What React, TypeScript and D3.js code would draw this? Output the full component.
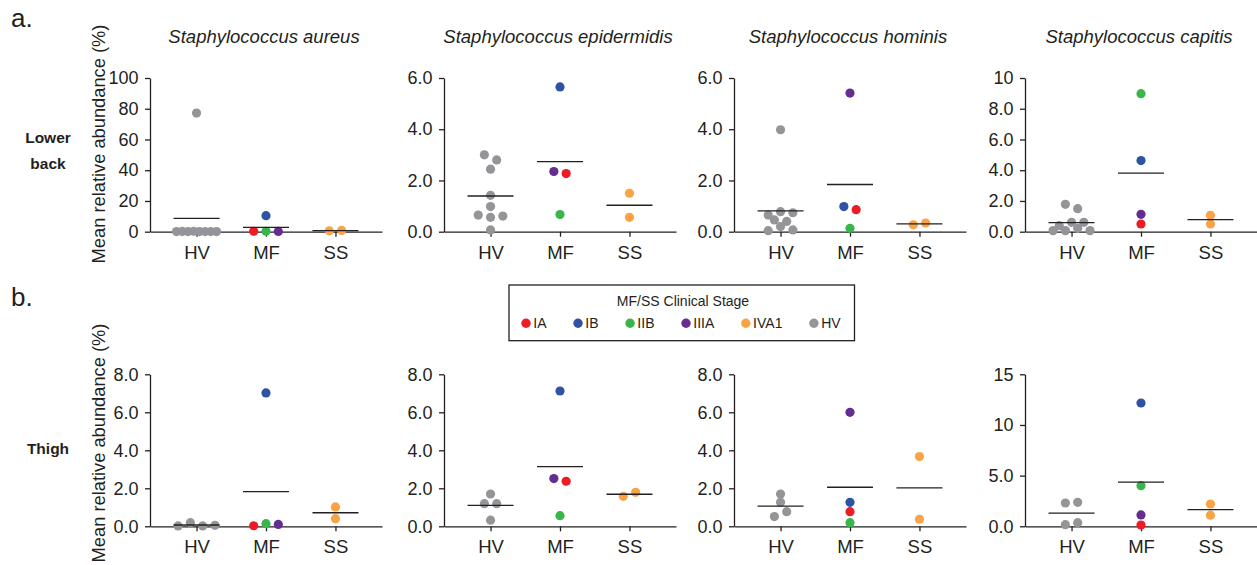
import * as d3 from "d3";
import { useEffect, useRef } from "react";

const groups = ["HV", "MF", "SS"];
const species = [
  "Staphylococcus aureus",
  "Staphylococcus epidermidis",
  "Staphylococcus hominis",
  "Staphylococcus capitis",
];
const siteLabels = [["Lower", "back"], ["Thigh"]];
const stages = ["IA", "IB", "IIB", "IIIA", "IVA1", "HV"];
const stageColors = ["#ED1C24", "#2E52A4", "#39B54A", "#662D91", "#F9A346", "#939598"];

// y axis per panel
const yMaxLowerBack = [100, 6, 6, 10];
const yTicksLowerBack = [
  [0, 20, 40, 60, 80, 100],
  [0, 2, 4, 6],
  [0, 2, 4, 6],
  [0, 2, 4, 6, 8, 10],
];
const yTickLabelsLowerBack = [
  ["0", "20", "40", "60", "80", "100"],
  ["0.0", "2.0", "4.0", "6.0"],
  ["0.0", "2.0", "4.0", "6.0"],
  ["0.0", "2.0", "4.0", "6.0", "8.0", "10"],
];
const yMaxThigh = [8, 8, 8, 15];
const yTicksThigh = [
  [0, 2, 4, 6, 8],
  [0, 2, 4, 6, 8],
  [0, 2, 4, 6, 8],
  [0, 5, 10, 15],
];
const yTickLabelsThigh = [
  ["0.0", "2.0", "4.0", "6.0", "8.0"],
  ["0.0", "2.0", "4.0", "6.0", "8.0"],
  ["0.0", "2.0", "4.0", "6.0", "8.0"],
  ["0.0", "5.0", "10", "15"],
];

// lower back
const hvLowerBack = [
  [77.2, 0.1, 0.2, 0.1, 0.3, 0.1, 0.1, 0.1, 0.1],
  [3.0, 2.8, 2.44, 1.42, 0.98, 0.65, 0.56, 0.61, 0.07],
  [3.98, 0.65, 0.78, 0.74, 0.46, 0.4, 0.04, 0.2, 0.07],
  [1.78, 1.5, 0.39, 0.61, 0.61, 0.07, 0.07, 0.22, 0.07],
];
const mfLowerBack: [string, number][][] = [
  [["IB", 10.4], ["IA", 0.3], ["IIB", 0.3], ["IIIA", 0.2]],
  [["IB", 5.65], ["IIIA", 2.35], ["IA", 2.27], ["IIB", 0.67]],
  [["IIIA", 5.41], ["IB", 0.98], ["IA", 0.86], ["IIB", 0.13]],
  [["IIB", 8.98], ["IB", 4.63], ["IIIA", 1.13], ["IA", 0.5]],
];
const ssLowerBack = [
  [0.6, 0.8],
  [1.5, 0.56],
  [0.27, 0.34],
  [1.07, 0.5],
];

// thigh
const hvThigh = [
  [0.02, 0.19, 0.02, 0.05],
  [1.7, 1.19, 1.19, 0.32],
  [1.7, 1.26, 0.51, 0.77],
  [2.3, 2.37, 0.16, 0.36],
];
const mfThigh: [string, number][][] = [
  [["IB", 7.02], ["IA", 0.03], ["IIB", 0.14], ["IIIA", 0.1]],
  [["IB", 7.12], ["IIIA", 2.51], ["IA", 2.37], ["IIB", 0.56]],
  [["IIIA", 6.0], ["IB", 1.26], ["IA", 0.77], ["IIB", 0.19]],
  [["IB", 12.17], ["IIB", 4.01], ["IIIA", 1.12], ["IA", 0.13]],
];
const ssThigh = [
  [1.02, 0.4],
  [1.58, 1.79],
  [3.67, 0.37],
  [2.2, 1.1],
];

const W = 1257;
const H = 565;
const FONT = "'Liberation Sans', Arial, Helvetica, sans-serif";
const INK = "#231F20";
const panelX = [150, 444, 734, 1025];
const axisLen = 232;
const rows = [
  { bottom: 231.7, top: 78, labelY: 144 },
  { bottom: 526.3, top: 374.3, labelY: 443 },
];
const R = 4.6;

type Pt = { group: string; stage: string; value: number };

// Prism-like scatter: points close in y share a row, rows are centred
function swarm(vals: number[], y: (v: number) => number) {
  const order = d3.range(vals.length).sort((a, b) => vals[b] - vals[a] || a - b);
  const offs = new Array(vals.length).fill(0);
  let row: number[] = [];
  const flush = () => {
    row.sort((a, b) => a - b);
    const n = row.length;
    const s = n > 1 ? Math.min(12.3, 40 / (n - 1)) : 0;
    row.forEach((i, k) => (offs[i] = (k - (n - 1) / 2) * s));
  };
  order.forEach((i) => {
    if (row.length && y(vals[i]) - y(vals[row[0]]) >= 5.5) {
      flush();
      row = [];
    }
    row.push(i);
  });
  flush();
  return offs;
}

export default function App() {
  const ref = useRef<SVGSVGElement>(null);

  useEffect(() => {
    if (!ref.current) return;
    const svg = d3.select(ref.current);
    svg.selectAll("*").remove();

    const color = d3.scaleOrdinal<string, string>().domain(stages).range(stageColors);
    const x = d3.scalePoint<string>().domain(groups).range([0, axisLen]).padding(0.67);

    const sites = [
      { hv: hvLowerBack, mf: mfLowerBack, ss: ssLowerBack, max: yMaxLowerBack, ticks: yTicksLowerBack, labels: yTickLabelsLowerBack },
      { hv: hvThigh, mf: mfThigh, ss: ssThigh, max: yMaxThigh, ticks: yTicksThigh, labels: yTickLabelsThigh },
    ];

    sites.forEach((site, r) => {
      const row = rows[r];
      species.forEach((sp, p) => {
        const y = d3.scaleLinear().domain([0, site.max[p]]).range([row.bottom, row.top]);
        const g = svg.append("g").attr("transform", `translate(${panelX[p]},0)`);

        const yAxis = g
          .append("g")
          .attr("color", INK)
          .call(
            d3
              .axisLeft(y)
              .tickValues(site.ticks[p])
              .tickFormat((_, i) => site.labels[p][i])
              .tickSize(5)
              .tickSizeOuter(0)
              .tickPadding(6.5)
          );
        yAxis.attr("font-size", 18).attr("font-family", FONT);
        yAxis.selectAll("path,line").attr("stroke-width", 1.3);
        yAxis.selectAll("text").attr("fill", INK);

        const xAxis = g
          .append("g")
          .attr("transform", `translate(0,${row.bottom})`)
          .attr("color", INK)
          .call(d3.axisBottom(x).tickSize(5).tickSizeOuter(0));
        xAxis.attr("font-size", 18.5).attr("font-family", FONT);
        xAxis.selectAll("path,line").attr("stroke-width", 1.3);
        xAxis.selectAll("text").attr("y", 27).attr("dy", null).attr("fill", INK);

        const groupsData: Pt[][] = [
          site.hv[p].map((v) => ({ group: "HV", stage: "HV", value: v })),
          site.mf[p].map(([s, v]) => ({ group: "MF", stage: s, value: v })),
          site.ss[p].map((v) => ({ group: "SS", stage: "IVA1", value: v })),
        ];

        groupsData.forEach((pts) => {
          const offs = swarm(pts.map((d) => d.value), y);
          g.append("g")
            .selectAll("circle")
            .data(pts)
            .enter()
            .append("circle")
            .attr("cx", (d, i) => (x(d.group) as number) + offs[i])
            .attr("cy", (d) => y(d.value))
            .attr("r", R)
            .attr("fill", (d) => color(d.stage));

          const m = d3.mean(pts, (d) => d.value) as number;
          const cx = x(pts[0].group) as number;
          g.append("line")
            .attr("x1", cx - 23)
            .attr("x2", cx + 23)
            .attr("y1", y(m))
            .attr("y2", y(m))
            .attr("stroke", INK)
            .attr("stroke-width", 1.4);
        });

        if (r === 0) {
          svg
            .append("text")
            .attr("x", panelX[p] + axisLen / 2 - 2)
            .attr("y", 43)
            .attr("text-anchor", "middle")
            .attr("font-family", FONT)
            .attr("font-style", "italic")
            .attr("font-size", 18.5)
            .attr("fill", INK)
            .text(sp);
        }
      });

      // y axis title
      svg
        .append("text")
        .attr("transform", `translate(105,${row.labelY}) rotate(-90)`)
        .attr("text-anchor", "middle")
        .attr("font-family", FONT)
        .attr("font-size", 18.3)
        .attr("fill", INK)
        .text("Mean relative abundance (%)");

      // site label
      const lab = svg
        .append("text")
        .attr("text-anchor", "middle")
        .attr("font-family", FONT)
        .attr("font-weight", "bold")
        .attr("font-size", 15.5)
        .attr("fill", INK);
      const ly = r === 0 ? 142.5 : 453.5;
      siteLabels[r].forEach((t, i) => {
        lab.append("tspan").attr("x", 48).attr("y", ly + i * 26).text(t);
      });
    });

    // panel letters
    ["a.", "b."].forEach((t, i) => {
      svg
        .append("text")
        .attr("x", 11)
        .attr("y", i === 0 ? 27 : 306)
        .attr("font-family", FONT)
        .attr("font-size", 26)
        .attr("fill", INK)
        .text(t);
    });

    // legend
    const lg = svg.append("g");
    lg.append("rect")
      .attr("x", 509)
      .attr("y", 285)
      .attr("width", 345.5)
      .attr("height", 55.7)
      .attr("fill", "none")
      .attr("stroke", INK)
      .attr("stroke-width", 1.3);
    lg.append("text")
      .attr("x", 683)
      .attr("y", 305.5)
      .attr("text-anchor", "middle")
      .attr("font-family", FONT)
      .attr("font-size", 14)
      .attr("fill", INK)
      .text("MF/SS Clinical Stage");
    let lx = 526;
    stages.forEach((s) => {
      lg.append("circle").attr("cx", lx).attr("cy", 323.3).attr("r", 4.7).attr("fill", color(s));
      const t = lg
        .append("text")
        .attr("x", lx + 7.3)
        .attr("y", 327.8)
        .attr("font-family", FONT)
        .attr("font-size", 14)
        .attr("fill", INK)
        .text(s);
      const w = (t.node() as SVGTextElement).getComputedTextLength();
      lx += 7.3 + w + 31.5;
    });
  }, []);

  return (
    <svg
      ref={ref}
      width={W}
      height={H}
      style={{ position: "absolute", left: 0, top: 0, background: "#fff" }}
    />
  );
}
